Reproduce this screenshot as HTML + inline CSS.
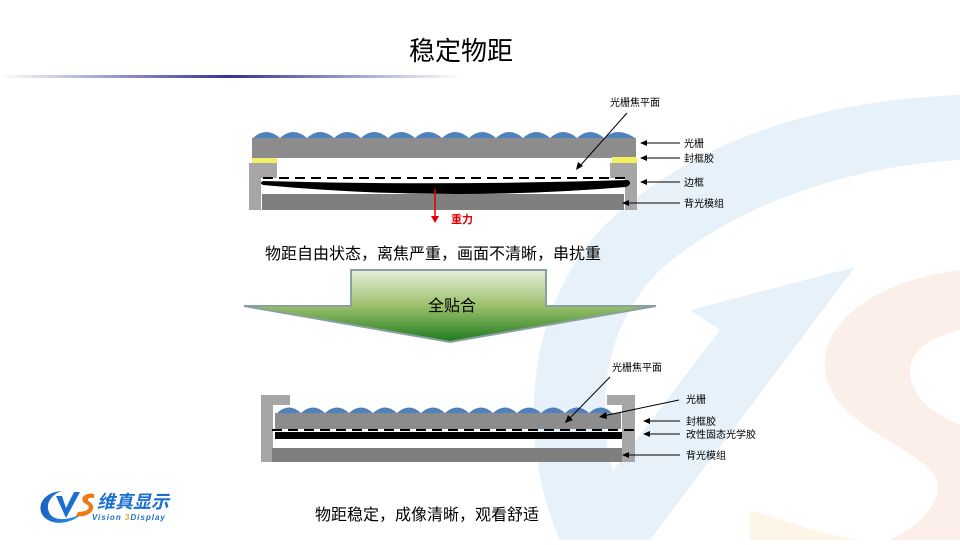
<!DOCTYPE html>
<html><head><meta charset="utf-8"><style>
html,body{margin:0;padding:0;background:#fff;}
body{width:960px;height:540px;overflow:hidden;}
svg text{font-family:"Liberation Sans","Noto Sans CJK SC",sans-serif;}
</style></head><body>
<svg width="960" height="540" viewBox="0 0 960 540" xmlns="http://www.w3.org/2000/svg">
<defs>
<linearGradient id="ul" x1="0" x2="1" y1="0" y2="0">
<stop offset="0" stop-color="#ffffff"/><stop offset="0.5" stop-color="#333399"/><stop offset="1" stop-color="#ffffff"/>
</linearGradient>
<linearGradient id="ag" x1="0" x2="0" y1="0" y2="1">
<stop offset="0" stop-color="#e6efdc"/><stop offset="0.5" stop-color="#9cc06c"/><stop offset="1" stop-color="#1d7a1d"/>
</linearGradient>
<linearGradient id="lg" x1="0" x2="1"><stop offset="0" stop-color="#1a5fc0"/><stop offset="1" stop-color="#2aa0e8"/></linearGradient>
</defs>
<!-- background logo -->
<path d="M960,95 C820,100 690,140 600,230 C520,320 520,450 560,540 L640,540 C590,450 590,340 660,270 C740,200 860,165 960,160 Z" fill="#e6f1f9"/>
<path d="M855,267 L690,310 L720,330 L560,540 L650,540 Z" fill="#e6f1f9"/>
<path d="M960,270 C880,280 820,320 825,370 C830,420 900,440 930,470 C950,490 930,520 890,540 L960,540 Z M960,330 C920,340 900,360 915,390 C925,410 950,420 960,425 Z" fill="#fcefea" fill-rule="evenodd"/>
<path d="M750,510 C800,525 840,540 870,540 L750,540 Z" fill="#fdf5e8"/>
<!-- title -->
<text x="461" y="60" font-size="26" text-anchor="middle" fill="#000">稳定物距</text>
<rect x="0" y="75" width="460" height="3" fill="url(#ul)"/>
<!-- top diagram -->
<g>
<path fill="#4f81bd" d="M253,138 Q266,126 280,138 Q293,126 307,138 Q320,126 334,138 Q347,126 361,138 Q374,126 388,138 Q401,126 415,138 Q428,126 442,138 Q455,126 469,138 Q482,126 496,138 Q509,126 523,138 Q536,126 550,138 Q563,126 577,138 Q590,126 604,138 Q617,126 635,138 Z"/>
<rect x="252" y="138" width="384" height="20" fill="#8c8c8c"/>
<rect x="252" y="158" width="25" height="7" fill="#f0f060"/>
<rect x="612" y="157" width="25" height="8" fill="#f0f060"/>
<path d="M249,163 H277 V178 H261 V210 H249 Z" fill="#a6a6a6"/>
<path d="M610,163 H637 V210 H625 V178 H610 Z" fill="#a6a6a6"/>
<line x1="263" y1="178" x2="628" y2="178" stroke="#000" stroke-width="2" stroke-dasharray="10,6"/>
<path d="M263,181 Q445,186 628,180 Q633,184 626,187 Q445,202 263,185 Q259,183 263,181 Z" fill="#000"/>
<rect x="262" y="194" width="362" height="16" fill="#7f7f7f"/>
<line x1="435" y1="189" x2="435" y2="220" stroke="#e00000" stroke-width="1.5"/>
<path d="M431,216 L435,223 L439,216 Z" fill="#e00000"/>
<text x="451" y="223" font-size="11" font-weight="bold" fill="#e00000">重力</text>
<text x="610" y="106" font-size="10" fill="#000">光栅焦平面</text>
<line x1="627" y1="113" x2="579" y2="167" stroke="#000" stroke-width="1"/>
<path d="M576,170 L578,162 L583,166 Z" fill="#000"/>
<g stroke="#000" stroke-width="1">
<line x1="642" y1="143" x2="680" y2="143"/><line x1="642" y1="158" x2="680" y2="158"/>
<line x1="642" y1="182" x2="680" y2="182"/><line x1="624" y1="203" x2="680" y2="203"/>
</g>
<g fill="#000">
<path d="M640,143 l7,-3 v6z"/><path d="M640,158 l7,-3 v6z"/><path d="M640,182 l7,-3 v6z"/><path d="M622,203 l7,-3 v6z"/>
</g>
<g font-size="10" fill="#000">
<text x="684" y="147">光栅</text><text x="684" y="162">封框胶</text><text x="684" y="186">边框</text><text x="684" y="207">背光模组</text>
</g>
</g>
<text x="265" y="259" font-size="16" fill="#000">物距自由状态，离焦严重，画面不清晰，串扰重</text>
<!-- big arrow -->
<path d="M351,270 H546 V306 H656 L450,342 L244,306 H351 Z" fill="url(#ag)" stroke="#8aa0a0" stroke-width="2"/>
<text x="452" y="311" font-size="16" text-anchor="middle" fill="#000">全贴合</text>
<!-- bottom diagram -->
<g>
<path d="M261,395 H290 V405 H273 V462 H261 Z" fill="#a6a6a6"/>
<path d="M607,395 H635 V462 H622 V405 H607 Z" fill="#a6a6a6"/>
<path d="M277,413 Q289,402 301,413 Q313,402 325,413 Q337,402 349,413 Q361,402 373,413 Q385,402 397,413 Q409,402 421,413 Q433,402 445,413 Q457,402 469,413 Q481,402 493,413 Q505,402 517,413 Q529,402 541,413 Q553,402 565,413 Q577,402 589,413 Q601,402 612,413 Z" fill="#4f81bd"/>
<rect x="275" y="413" width="346" height="16" fill="#8c8c8c"/>
<line x1="272" y1="430" x2="637" y2="430" stroke="#000" stroke-width="2" stroke-dasharray="10,6"/>
<rect x="275" y="432" width="347" height="7" fill="#000"/>
<rect x="272" y="448" width="350" height="14" fill="#7f7f7f"/>
<text x="612" y="371" font-size="10" fill="#000">光栅焦平面</text>
<line x1="610" y1="377" x2="568" y2="420" stroke="#000"/>
<path d="M565,423 L568,415 L573,420 Z" fill="#000"/>
<line x1="679" y1="400" x2="603" y2="416" stroke="#000"/>
<path d="M599,417 L606,412 L607,419 Z" fill="#000"/>
<g stroke="#000"><line x1="645" y1="421" x2="680" y2="421"/><line x1="645" y1="434" x2="680" y2="434"/><line x1="624" y1="455" x2="680" y2="455"/></g>
<g fill="#000"><path d="M643,421 l7,-3 v6z"/><path d="M643,434 l7,-3 v6z"/><path d="M622,455 l7,-3 v6z"/></g>
<g font-size="10" fill="#000">
<text x="686" y="403">光栅</text><text x="686" y="425">封框胶</text><text x="686" y="438">改性固态光学胶</text><text x="686" y="459">背光模组</text>
</g>
</g>
<text x="315" y="520" font-size="16" fill="#000">物距稳定，成像清晰，观看舒适</text>
<!-- logo -->
<g>
<path d="M62,491 C40,492 34,512 48,520 C58,526 75,522 84,512 C72,520 55,522 50,514 C44,504 52,494 62,491 Z" fill="url(#lg)"/>
<path d="M56,496 L66,518 L80,492 L74,492 L66,508 L62,496 Z" fill="#1a6fd0"/>
<path d="M94,494 C84,492 78,500 86,504 C92,507 88,512 78,512 L76,516 C90,518 98,508 90,502 C86,500 88,497 94,498 Z" fill="#f07a10"/>
<text x="97" y="508" font-size="18" font-weight="bold" fill="#1a6fd0" font-style="italic">维真显示</text>
<text x="92" y="520" font-size="8" font-weight="bold" font-style="italic" fill="#1a6fd0" letter-spacing="1">Vision <tspan fill="#f0a010">3</tspan>Display</text>
</g>
</svg>
</body></html>
